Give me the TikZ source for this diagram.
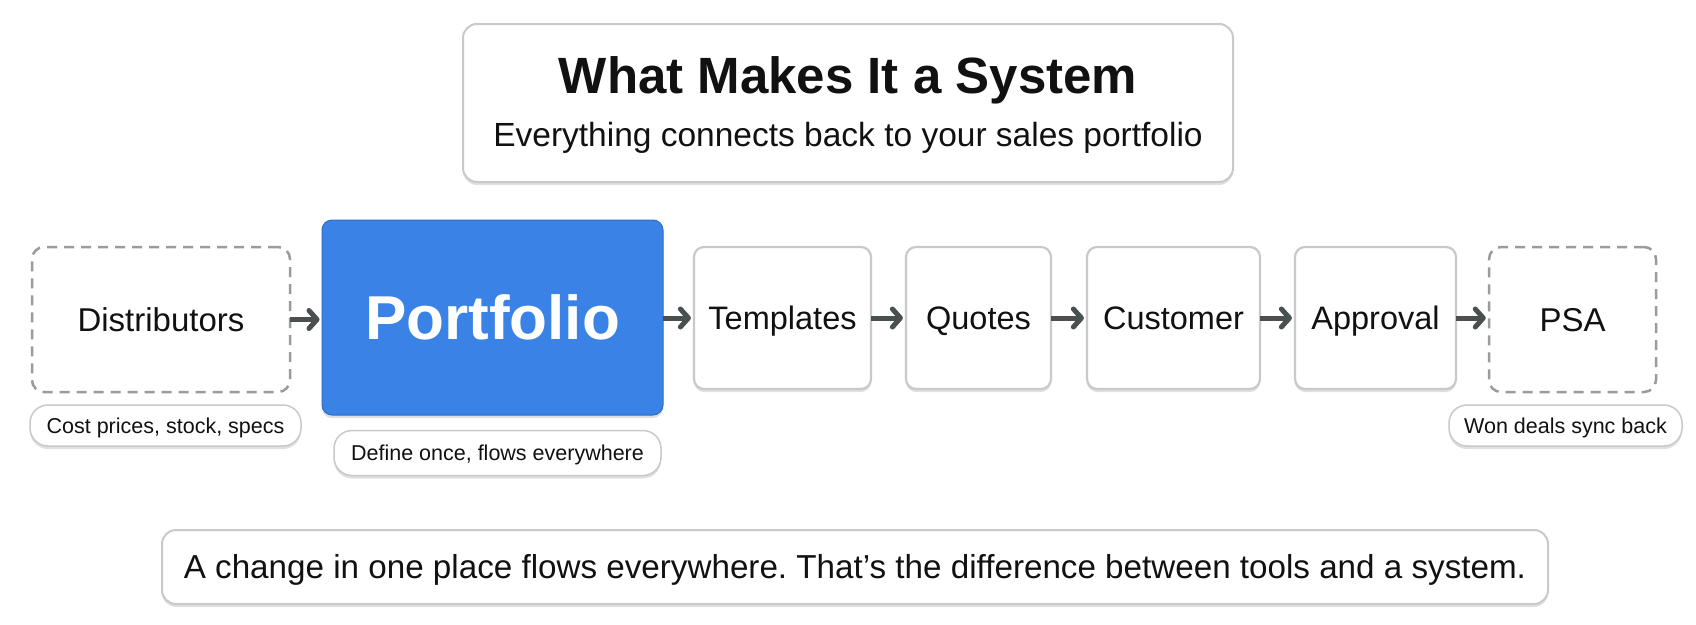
\documentclass[tikz,border=0pt]{standalone}
\usepackage{fontspec}
\setmainfont{Liberation Sans}
\frenchspacing
\usetikzlibrary{arrows.meta,shadows}
\definecolor{bluefill}{HTML}{3A82E6}
\definecolor{boxline}{HTML}{C9C9C9}
\definecolor{dashline}{HTML}{9B9B9B}
\definecolor{arrowcol}{HTML}{4A4F4F}
\definecolor{txt}{HTML}{111111}
\tikzset{
  shad/.style={drop shadow={shadow xshift=0pt,shadow yshift=-3pt,fill=black,opacity=0.12}},
  solidbox/.style={draw=boxline,line width=2.2pt,fill=white,rounded corners=10pt,shad,
     inner sep=0pt,font=\fontsize{32.5}{36}\selectfont,text=txt,text height=23.3pt,text depth=0pt},
  dashbox/.style={draw=dashline,line width=2.5pt,dash pattern=on 10pt off 7pt,fill=white,
     rounded corners=12pt,inner sep=0pt,font=\fontsize{33}{36}\selectfont,text=txt,
     text height=23.6pt,text depth=0pt},
  bluebox/.style={fill=bluefill,draw=bluefill!85!black,line width=1pt,rounded corners=10pt,shad,
     inner sep=0pt,font=\bfseries\fontsize{62}{70}\selectfont,text=white,text height=44.4pt,text depth=0pt},
  pill/.style={draw=boxline,line width=1.5pt,fill=white,rounded corners=18pt,shad,
     inner sep=0pt,font=\fontsize{21.5}{24}\selectfont,text=txt,text height=15.4pt,text depth=0pt},
  flow/.style={draw=arrowcol,line width=5pt,-{Straight Barb[length=8pt,width=18pt,line width=5pt,round]},
     shorten <=-1pt,shorten >=2pt},
  bigbox/.style={draw=boxline,line width=2pt,fill=white,rounded corners=14pt,shad,inner sep=0pt,text=txt}
}
\begin{document}
\begin{tikzpicture}[x=1pt,y=-1pt]
\useasboundingbox[fill=white] (0,0) rectangle (1696,624);
% title
\node[bigbox,minimum width=770pt,minimum height=158pt] (title) at (848,103) {};
\node[font=\bfseries\fontsize{51}{58}\selectfont,text=txt] (tt) at (848,80) {What Makes It a System};
\node[font=\fontsize{33.5}{40}\selectfont,text=txt] (st) at (848,138) {Everything connects back to your sales portfolio};
% flow nodes
\node[dashbox,minimum width=258pt,minimum height=145pt] (dist) at (161,319.5) {Distributors};
\node[bluebox,minimum width=341pt,minimum height=195pt] (port) at (492.5,317.5) {Portfolio};
\node[solidbox,minimum width=177pt,minimum height=142pt] (temp) at (782.5,318) {Templates};
\node[solidbox,minimum width=145pt,minimum height=142pt] (quot) at (978.5,318) {Quotes};
\node[solidbox,minimum width=173pt,minimum height=142pt] (cust) at (1173.5,318) {Customer};
\node[solidbox,minimum width=161pt,minimum height=142pt] (appr) at (1375.5,318) {Approval};
\node[dashbox,minimum width=167pt,minimum height=145pt] (psa) at (1572.5,319.5) {PSA};
% arrows
\draw[flow] (dist.east) -- (port.west |- dist.east);
\draw[flow] (port.east |- temp.west) -- (temp.west);
\draw[flow] (temp.east) -- (quot.west);
\draw[flow] (quot.east) -- (cust.west);
\draw[flow] (cust.east) -- (appr.west);
\draw[flow] (appr.east) -- (psa.west |- appr.east);
% labels
\node[pill,minimum width=271pt,minimum height=41pt] (l1) at (165.5,425.5) {Cost prices, stock, specs};
\node[pill,minimum width=327pt,minimum height=45pt] (l2) at (497.5,453) {Define once, flows everywhere};
\node[pill,minimum width=233pt,minimum height=41pt] (l3) at (1565.5,425.5) {Won deals sync back};
% bottom
\node[bigbox,minimum width=1386pt,minimum height=74pt,font=\fontsize{33.2}{38}\selectfont,text height=23.8pt,text depth=0pt] (bot) at (855,567) {A change in one place flows everywhere. That’s the difference between tools and a system.};
\end{tikzpicture}
\end{document}
